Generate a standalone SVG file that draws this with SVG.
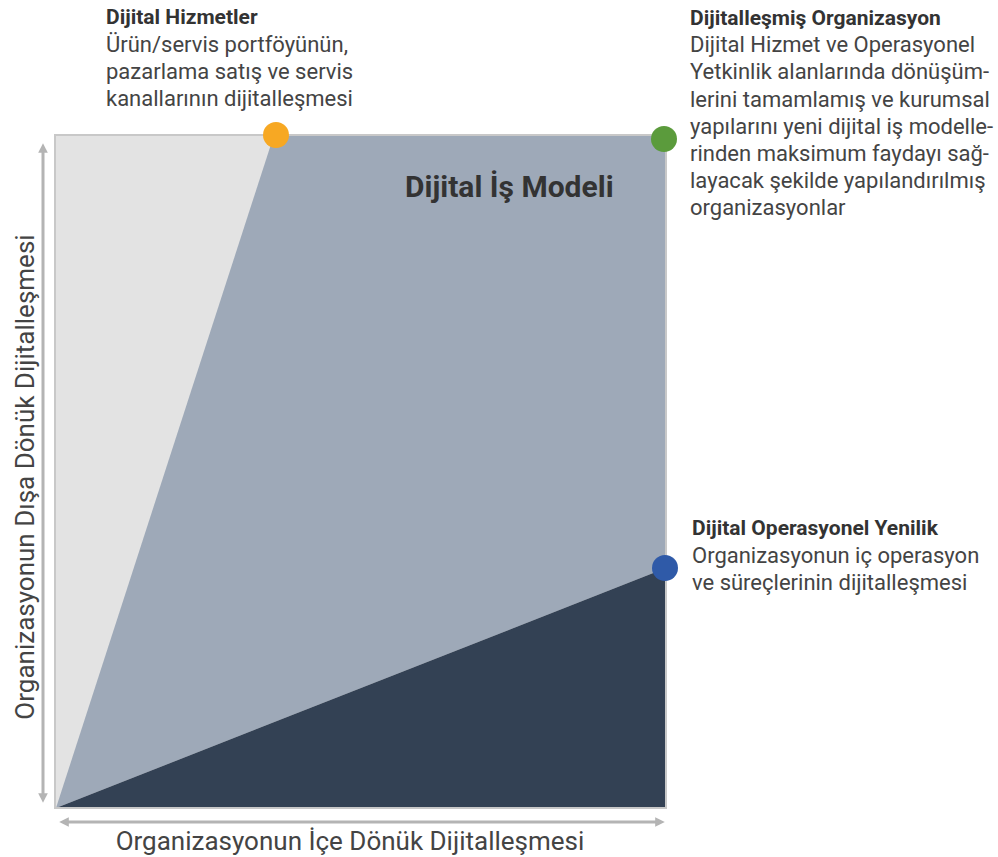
<svg xmlns="http://www.w3.org/2000/svg" width="998" height="857" viewBox="0 0 998 857">
  <style>
    .t { font-family: Roboto, "Liberation Sans", sans-serif; fill: #444; }
    .h { font-weight: bold; font-size: 21px; fill: #333; }
    .b { font-size: 22px; }
    .ax { font-size: 26px; }
    .axis { stroke: #b4b4b4; stroke-width: 3; fill: none; }
  </style>
  <defs>
    <marker id="arr" viewBox="0 0 10 10" refX="5" refY="5" markerWidth="3.2" markerHeight="3.2" orient="auto-start-reverse">
      <path d="M0,0 L10,5 L0,10 Z" fill="#b4b4b4"/>
    </marker>
  </defs>

  <!-- quadrant regions -->
  <g id="regions">
    <rect x="55" y="135" width="611" height="673" fill="#e3e3e3" stroke="#c8c8c8" stroke-width="2"/>
    <polygon points="274,135 666,135 666,568 56,808" fill="#9ea9b8"/>
    <polygon points="56,808 666,568 666,808" fill="#334154"/>
    <rect x="55" y="135" width="611" height="673" fill="none" stroke="#c8c8c8" stroke-width="2"/>
  </g>

  <!-- axes -->
  <g id="connectors">
    <line class="axis" x1="43" y1="148" x2="43" y2="798" marker-start="url(#arr)" marker-end="url(#arr)"/>
    <line class="axis" x1="64" y1="822" x2="660" y2="822" marker-start="url(#arr)" marker-end="url(#arr)"/>
  </g>

  <g id="label-model">
    <text class="t" x="405" y="197" style="font-weight:bold;font-size:30px;fill:#333">Dijital İş Modeli</text>
  </g>

  <g id="node-hizmetler">
    <circle cx="276" cy="135" r="13" fill="#f7a823"/>
    <text class="t h" x="106" y="24">Dijital Hizmetler</text>
    <text class="t b" x="106" y="52">Ürün/servis portföyünün,</text>
    <text class="t b" x="106" y="79">pazarlama satış ve servis</text>
    <text class="t b" x="106" y="106">kanallarının dijitalleşmesi</text>
  </g>

  <g id="node-organizasyon">
    <circle cx="664" cy="139" r="13" fill="#5b9b3c"/>
    <text class="t h" x="690" y="25">Dijitalleşmiş Organizasyon</text>
    <text class="t b" x="690" y="52">Dijital Hizmet ve Operasyonel</text>
    <text class="t b" x="690" y="79">Yetkinlik alanlarında dönüşüm-</text>
    <text class="t b" x="690" y="107">lerini tamamlamış ve kurumsal</text>
    <text class="t b" x="690" y="134">yapılarını yeni dijital iş modelle-</text>
    <text class="t b" x="690" y="161">rinden maksimum faydayı sağ-</text>
    <text class="t b" x="690" y="188">layacak şekilde yapılandırılmış</text>
    <text class="t b" x="690" y="215">organizasyonlar</text>
  </g>

  <g id="node-operasyonel">
    <circle cx="665" cy="568" r="13" fill="#2f5aa8"/>
    <text class="t h" x="692" y="535">Dijital Operasyonel Yenilik</text>
    <text class="t b" x="692" y="563">Organizasyonun iç operasyon</text>
    <text class="t b" x="692" y="590">ve süreçlerinin dijitalleşmesi</text>
  </g>

  <g id="axis-labels">
    <text class="t ax" x="350" y="850" text-anchor="middle">Organizasyonun İçe Dönük Dijitalleşmesi</text>
    <text class="t ax" transform="translate(34,477) rotate(-90)" text-anchor="middle">Organizasyonun Dışa Dönük Dijitalleşmesi</text>
  </g>
</svg>
